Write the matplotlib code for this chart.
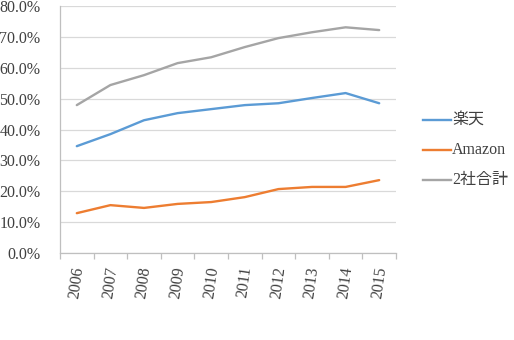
import matplotlib
matplotlib.use("Agg")
import matplotlib.pyplot as plt
from matplotlib.lines import Line2D
import numpy as np

years = ["2006", "2007", "2008", "2009", "2010", "2011", "2012", "2013", "2014", "2015"]
rakuten = [34.6, 38.5, 43.0, 45.3, 46.6, 47.9, 48.5, 50.2, 51.8, 48.5]
amazon = [12.9, 15.5, 14.6, 15.9, 16.5, 18.1, 20.7, 21.4, 21.4, 23.6]
total = [47.9, 54.4, 57.6, 61.5, 63.4, 66.7, 69.6, 71.5, 73.1, 72.2]
series_names = ["楽天", "Amazon", "2社合計"]
colors = ["#5B9BD5", "#ED7D31", "#A5A5A5"]
yticks = [0, 10, 20, 30, 40, 50, 60, 70, 80]

FONT = ["Liberation Serif", "Noto Sans CJK JP", "DejaVu Sans"]
plt.rcParams["font.family"] = FONT
FS = 11.5

W, H = 514, 340
fig = plt.figure(figsize=(W / 100, H / 100), dpi=100)
ax = fig.add_axes([60 / W, (H - 253) / H, (396 - 60) / W, (253 - 6) / H])

x = np.arange(len(years))
for vals, c in zip([rakuten, amazon, total], colors):
    ax.plot(x, vals, color=c, lw=1.7, solid_capstyle="round")

ax.set_xlim(-0.5, len(years) - 0.5)
ax.set_ylim(0, 80)
ax.set_yticks(yticks)
ax.set_yticklabels([f"{v:.1f}%" for v in yticks], fontsize=FS, color="#404040")
ax.yaxis.grid(True, color="#D9D9D9", lw=0.9)
ax.set_axisbelow(True)
ax.tick_params(axis="y", length=0, pad=14)

ax.set_xticks(x)
ax.set_xticklabels(years, rotation=82, fontsize=FS, color="#404040")
ax.tick_params(axis="x", which="major", length=0, pad=9)
ax.set_xticks(np.arange(-0.5, len(years), 1.0), minor=True)
ax.tick_params(axis="x", which="minor", length=4, color="#BFBFBF", width=0.9)

for s in ["top", "right"]:
    ax.spines[s].set_visible(False)
for s in ["left", "bottom"]:
    ax.spines[s].set_color("#BFBFBF")
    ax.spines[s].set_linewidth(0.9)

# legend
leg_y = [120, 150, 180]
for name, c, yy in zip(series_names, colors, leg_y):
    fy = (H - yy) / H
    fig.add_artist(Line2D([423 / W, 451 / W], [fy, fy], color=c, lw=1.7,
                          transform=fig.transFigure))
    fig.text(452 / W, fy, name, fontsize=FS, color="#404040", va="center", ha="left")

fig.savefig("out.png", dpi=100)
